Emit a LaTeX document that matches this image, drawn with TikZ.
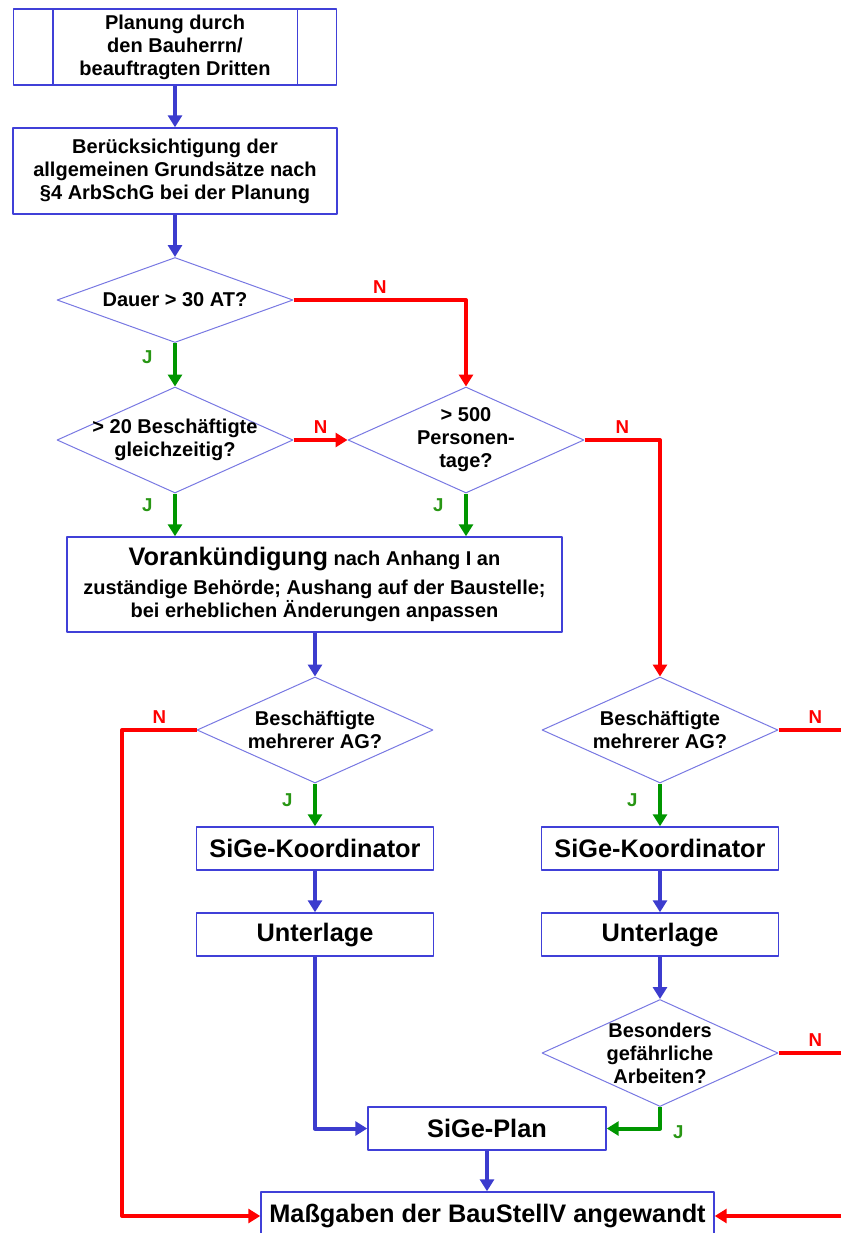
\documentclass[tikz,border=0pt]{standalone}
\usepackage{fontspec}
\setmainfont{Liberation Sans}
\usepackage{tikz}
\usetikzlibrary{shapes}
\usetikzlibrary{arrows.meta}
\usetikzlibrary{calc}
\definecolor{boxblue}{RGB}{64,64,216}
\definecolor{diablue}{RGB}{120,120,226}
\definecolor{arrblue}{RGB}{60,60,206}
\definecolor{nred}{RGB}{255,0,0}
\definecolor{jgreen}{RGB}{0,150,0}
\definecolor{jtext}{RGB}{40,150,20}

\begin{document}
\begin{tikzpicture}[x=0.75pt,y=-0.75pt,line join=round,
  every node/.style={font=\fontsize{15}{17.25}\selectfont\bfseries,align=center},
  box/.style={rectangle,draw=boxblue,line width=1.1pt,inner sep=0pt},
  dia/.style={diamond,draw=diablue,line width=0.75pt,inner xsep=-90pt,inner ysep=-40pt,minimum width=177pt,minimum height=79.5pt},
  bigtext/.style={font=\fontsize{19}{22}\selectfont\bfseries},
  flow/.style={-{Triangle[length=9pt,width=10.5pt]},line width=3pt,draw=arrblue},
  jaline/.style={flow,draw=jgreen},
  neinline/.style={flow,draw=nred},
  jlab/.style={text=jtext,font=\fontsize{14}{16}\selectfont\bfseries},
  nlab/.style={text=nred,font=\fontsize{14}{16}\selectfont\bfseries}]
  \useasboundingbox (0,0) rectangle (840,1233);
  \coordinate (ledge) at (122,0);
  \coordinate (redge) at (852,0);

  \node[box,minimum width=242.25pt,minimum height=57pt] (plan) at (175,47) {Planung durch\\den Bauherrn/\\beauftragten Dritten};
  \draw[boxblue,line width=1.1pt] ($(plan.north west)+(40,0)$) -- ($(plan.south west)+(40,0)$);
  \draw[boxblue,line width=1.1pt] ($(plan.north east)+(-40,0)$) -- ($(plan.south east)+(-40,0)$);
  \node[box,minimum width=243pt,minimum height=64.5pt] (grund) at (175,171) {Berücksichtigung der\\allgemeinen Grundsätze nach\\§4 ArbSchG bei der Planung};
  \node[dia,minimum height=63.75pt] (dauer) at (175,300) {Dauer > 30 AT?};
  \node[dia] (besch) at (175,440) {> 20 Beschäftigte\\gleichzeitig?};
  \node[dia] (ptage) at (466,440) {> 500\\Personen-\\tage?};
  \node[box,minimum width=371.25pt,minimum height=71.25pt] (vorank) at (314.5,584.5) {{\fontsize{19}{22}\selectfont Vorankündigung} nach Anhang I an\\[4pt]zuständige Behörde; Aushang auf der Baustelle;\\bei erheblichen Änderungen anpassen};
  \node[dia] (agl) at (315,730) {Beschäftigte\\mehrerer AG?};
  \node[dia] (agr) at (660,730) {Beschäftigte\\mehrerer AG?};
  \node[box,bigtext,minimum width=177.75pt,minimum height=32.25pt] (kol) at (315,848.5) {SiGe-Koordinator};
  \node[box,bigtext,minimum width=177.75pt,minimum height=32.25pt] (kor) at (660,848.5) {SiGe-Koordinator};
  \node[box,bigtext,minimum width=177.75pt,minimum height=32.25pt] (unl) at (315,934.5) {Unterlage};
  \node[box,bigtext,minimum width=177.75pt,minimum height=32.25pt] (unr) at (660,934.5) {Unterlage};
  \node[dia,minimum height=80.25pt] (gefahr) at (660,1053) {Besonders\\gefährliche\\Arbeiten?};
  \node[box,bigtext,minimum width=178.5pt,minimum height=32.25pt] (siplan) at (487,1128.5) {SiGe-Plan};
  \node[box,bigtext,minimum width=339.75pt,minimum height=36pt] (massg) at (487.5,1216) {Maßgaben der BauStellV angewandt};

  \draw[flow] (plan) -- (grund);
  \draw[flow] (grund) -- (dauer);
  \draw[jaline] (dauer) -- node[jlab,left=12pt,pos=0.32]{J} (besch);
  \draw[neinline] (dauer.east) -| node[nlab,above,pos=0.25]{N} (ptage.north);
  \draw[neinline] (besch.east) -- node[nlab,above]{N} (ptage.west);
  \draw[jaline] (besch.south) -- node[jlab,left=12pt,pos=0.27]{J} (besch.south |- vorank.north);
  \draw[jaline] (ptage.south) -- node[jlab,left=12pt,pos=0.27]{J} (ptage.south |- vorank.north);
  \draw[neinline] (ptage.east) -| node[nlab,above,pos=0.25]{N} (agr.north);
  \draw[flow] (agl.north |- vorank.south) -- (agl.north);
  \draw[neinline] (agl.west) -- node[nlab,above]{N} (agl.west -| ledge) -- (ledge |- massg.west) -- (massg.west);
  \draw[jaline] (agl) -- node[jlab,left=12pt,pos=0.39]{J} (kol);
  \draw[flow] (kol) -- (unl);
  \draw[flow] (unl.south) |- (siplan.west);
  \draw[neinline] (agr.east) -- node[nlab,above]{N} (agr.east -| redge) -- (redge |- massg.east) -- (massg.east);
  \draw[jaline] (agr) -- node[jlab,left=12pt,pos=0.39]{J} (kor);
  \draw[flow] (kor) -- (unr);
  \draw[flow] (unr) -- (gefahr);
  \draw[neinline,-] (gefahr.east) -- node[nlab,above]{N} (gefahr.east -| redge);
  \draw[jaline] (gefahr.south) |- node[jlab,right=5pt,yshift=-3pt,pos=0.5]{J} (siplan.east);
  \draw[flow] (siplan.south) -- (siplan.south |- massg.north);
\end{tikzpicture}
\end{document}
